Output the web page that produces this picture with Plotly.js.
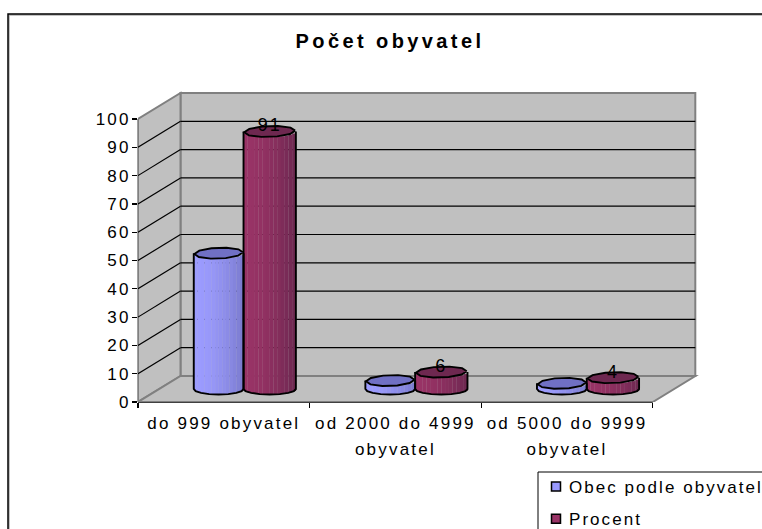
<!DOCTYPE html>
<html><head><meta charset="utf-8">
<script src="https://cdn.plot.ly/plotly-3.0.1.min.js"></script>
<style>html,body{margin:0;padding:0;background:#fff;overflow:hidden}#c{width:762px;height:529px}
.xtick text,.ytick text,.xtick tspan{letter-spacing:2.2px}
.legendtext{letter-spacing:2.05px}
.gtitle{letter-spacing:3.4px}
.textpoint text{letter-spacing:2px}
</style>
</head><body><div id="c"></div>
<script>
var categories = ['do 999 obyvatel', 'od 2000 do 4999<br>obyvatel', 'od 5000 do 9999<br>obyvatel'];
var obec = [48, 3, 2];
var procent = [91, 6, 4];
var yTicks = [0,10,20,30,40,50,60,70,80,90,100];
var seriesNames = ['Obec podle obyvatel', 'Procent'];
var xIdx = categories.map(function(_,i){return i;});

var W=762,H=529, L=138, Bot=402, pxX=171.6, pxY=2.83, depthX=42.5, depthY=26, pad=4;
var pW=695+pad-L, pT=93-pad, pH=Bot-pT;
var dx=depthX/pxX, dy=depthY/pxY;
var px=function(x){return (x-L)/pW;}, py=function(y){return (Bot-y)/pH;};
var midY=dy/2;

var styles=[
 {off:-0.175,w:0.29,left:[156,156,255],right:[122,122,205],top:'#7070c4',legend:'#9999ff'},
 {off:0.115,w:0.305,left:[153,51,102],right:[108,40,80],top:'#6e2850',legend:'#993366'}
];
var ry=5.5/pxY, N=14;
var traces=[];
function mix(a,b,t){return 'rgb('+a.map(function(v,i){return Math.round(v+(b[i]-v)*t);}).join(',')+')';}
[obec,procent].forEach(function(vals,s){
  var st=styles[s];
  for(var k=0;k<N;k++){
    var u=((k+0.5)/N)*2-1, drop=ry*Math.sqrt(1-u*u);
    var t=Math.pow((k+0.5)/N,1.8);
    traces.push({type:'bar',x:xIdx,y:vals,base:vals.map(function(){return midY-drop;}),
      offset:st.off+st.w*k/N,width:st.w/N+0.001,
      marker:{color:mix(st.left,st.right,t),line:{width:0}},showlegend:false,hoverinfo:'skip'});
  }
});
[obec,procent].forEach(function(vals,s){
  var st=styles[s];
  vals.forEach(function(v,i){
    var x0=i+st.off, cx=x0+st.w/2, rx=st.w/2, yTop=midY+v;
    var ox=[x0],oy=[yTop];
    for(var a=0;a<=8;a++){var th=Math.PI*a/8;ox.push(cx-rx*Math.cos(th));oy.push(midY-ry*Math.sin(th));}
    ox.push(x0+st.w);oy.push(yTop);
    traces.push({type:'scatter',mode:'lines',x:ox,y:oy,line:{color:'#000',width:1.9},showlegend:false,hoverinfo:'skip'});
    var tx=[],ty=[];
    for(var b=0;b<=10;b++){var ph=2*Math.PI*b/10+0.15;
      tx.push(cx+0.96*rx*Math.cos(ph)+0.16*rx*Math.sin(ph));ty.push(yTop+ry*Math.sin(ph));}
    traces.push({type:'scatter',mode:'lines',x:tx,y:ty,fill:'toself',fillcolor:st.top,line:{color:'#000',width:1.9},showlegend:false,hoverinfo:'skip'});
  });
});
traces.push({type:'scatter',mode:'text',x:xIdx.map(function(i){return i+styles[1].off+styles[1].w/2;}),
  y:procent.map(function(v){return v+midY+1.6;}),text:procent.map(String),textposition:'middle center',
  textfont:{family:'Liberation Sans',size:18,color:'#000'},showlegend:false,hoverinfo:'skip'});
seriesNames.forEach(function(n,s){
  traces.push({type:'scatter',mode:'markers',x:[null],y:[null],name:n,legendgroup:'g'+s,
    marker:{symbol:'square',size:9,color:styles[s].legend,line:{color:'#000',width:1.5}}});
});

var wall='#c0c0c0',edge='#808080';
var x0=-0.5,x1=2.5;
function poly(pts,fill){return {type:'path',xref:'x',yref:'y',layer:'below',path:'M'+pts.map(function(p){return p[0]+','+p[1];}).join('L')+'Z',fillcolor:fill,line:{color:edge,width:2}};}
function ln(xa,ya,xb,yb,c,w,xr,yr){return {type:'line',xref:xr||'x',yref:yr||'y',layer:'below',x0:xa,y0:ya,x1:xb,y1:yb,line:{color:c,width:w}};}
var shapes=[
 {type:'rect',xref:'paper',yref:'paper',layer:'below',x0:px(9),x1:px(790),y0:py(15),y1:py(560),line:{color:'#b0b0b0',width:1.5},fillcolor:'rgba(0,0,0,0)'},
 {type:'rect',xref:'paper',yref:'paper',layer:'below',x0:px(8),x1:px(790),y0:py(14),y1:py(560),line:{color:'#000',width:1.5},fillcolor:'rgba(0,0,0,0)'},
 poly([[x0+dx,dy],[x1+dx,dy],[x1+dx,100+dy],[x0+dx,100+dy]],wall),
 poly([[x0,0],[x0+dx,dy],[x0+dx,100+dy],[x0,100]],wall),
 poly([[x0,0],[x1,0],[x1+dx,dy],[x0+dx,dy]],wall)
];
yTicks.forEach(function(v){
  if(v===0||v===100) return;
  shapes.push(ln(x0+dx,v+dy,x1+dx,v+dy,'#000',1.2));
  shapes.push(ln(x0,v,x0+dx,v+dy,'#000',1.2));
});
shapes.push(ln(x0,0,x1,0,'#000',1.5,'x','paper'));
shapes.push(ln(0,0,0,100,edge,1.5,'paper','y'));
shapes.push({type:'rect',xref:'paper',yref:'paper',layer:'above',x0:px(538),x1:px(790),y0:py(472),y1:py(560),line:{color:'#000',width:1},fillcolor:'rgba(255,255,255,0)'});

var layout={
 width:W,height:H,paper_bgcolor:'#fff',plot_bgcolor:'rgba(0,0,0,0)',
 margin:{l:L,t:pT,r:W-L-pW,b:H-Bot,pad:0,autoexpand:false},
 barmode:'overlay',showlegend:true,
 font:{family:'Liberation Sans',size:17,color:'#000'},
 title:{text:'<b>Počet obyvatel</b>',font:{family:'Liberation Sans',size:20,color:'#000'},xref:'paper',x:px(390),xanchor:'center',yref:'container',y:1-41/H,yanchor:'middle'},
 xaxis:{type:'linear',range:[x0,x0+pW/pxX],tickmode:'array',tickvals:xIdx,ticktext:categories,ticks:'',showgrid:false,zeroline:false,showline:false,
   tickfont:{family:'Liberation Sans',size:17,color:'#000'},tickangle:0,automargin:false,ticklabelstandoff:9,
   minor:{tickmode:'array',tickvals:[-0.5,0.5,1.5,2.5],ticks:'outside',ticklen:5,tickcolor:'#000',tickwidth:1.2,showgrid:false}},
 yaxis:{range:[0,pH/pxY],tickmode:'array',tickvals:yTicks,ticks:'outside',ticklen:5,tickwidth:1.2,tickcolor:'#000',showgrid:false,zeroline:false,showline:false,
   tickfont:{family:'Liberation Sans',size:17,color:'#000'},automargin:false,ticklabelstandoff:-2},
 legend:{x:px(529),y:py(469),xanchor:'left',yanchor:'top',bgcolor:'rgba(255,255,255,0)',borderwidth:0,font:{family:'Liberation Sans',size:17,color:'#000'},itemwidth:30,tracegroupgap:7},
 shapes:shapes
};
Plotly.newPlot('c',traces,layout,{displayModeBar:false,staticPlot:true}).then(function(gd){
  gd.querySelectorAll('.xtick text tspan.line').forEach(function(t){
    if(t.getAttribute('dy')&&parseFloat(t.getAttribute('dy'))>0) t.setAttribute('dy','1.55em');
  });
  gd.querySelectorAll('.legendsymbols').forEach(function(g){g.setAttribute('transform','translate(7,0)');});
});
</script></body></html>
